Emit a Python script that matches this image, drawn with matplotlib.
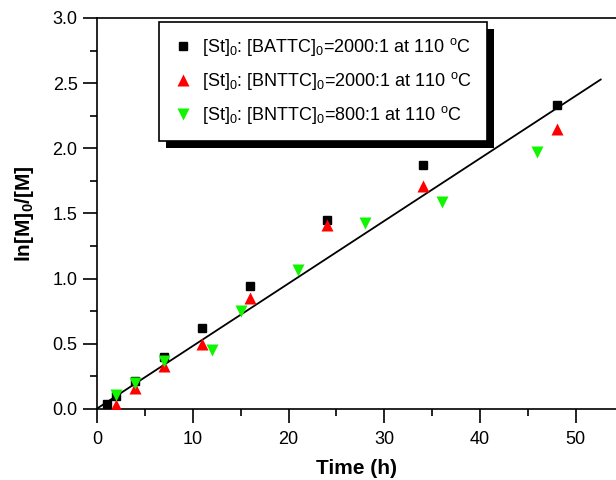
import numpy as np
import matplotlib
matplotlib.use("Agg")
import matplotlib.pyplot as plt
from matplotlib.patches import Rectangle
from matplotlib.ticker import MultipleLocator, FormatStrFormatter

plt.rcParams['font.family'] = ['Liberation Sans', 'DejaVu Sans']
plt.rcParams['mathtext.fontset'] = 'custom'
plt.rcParams['mathtext.rm'] = 'Liberation Sans'
plt.rcParams['mathtext.it'] = 'Liberation Sans:italic'
plt.rcParams['mathtext.bf'] = 'Liberation Sans:bold'

# Cinética: ln([M]0/[M]) vs tempo
t_battc_2000 = [1, 2, 4, 7, 11, 16, 24, 34, 48]
y_battc_2000 = [0.04, 0.10, 0.215, 0.40, 0.62, 0.94, 1.45, 1.87, 2.33]

t_bnttc_2000 = [2, 4, 7, 11, 16, 24, 34, 48]
y_bnttc_2000 = [0.03, 0.16, 0.33, 0.50, 0.85, 1.41, 1.71, 2.15]

t_bnttc_800 = [2, 4, 7, 12, 15, 21, 28, 36, 46]
y_bnttc_800 = [0.107, 0.20, 0.37, 0.45, 0.75, 1.07, 1.425, 1.59, 1.975]

# Reta ajustada
fit_slope = 0.048
fit_intercept = 0.003
fit_t = [0.0, 52.6]

labels = [r'[St]$_0$: [BATTC]$_0$=2000:1 at 110 $^{\rm o}$C',
          r'[St]$_0$: [BNTTC]$_0$=2000:1 at 110 $^{\rm o}$C',
          r'[St]$_0$: [BNTTC]$_0$=800:1 at 110 $^{\rm o}$C']

fig = plt.figure(figsize=(6.16, 4.80), dpi=100)
ax = fig.add_axes([0.1575, 0.148, 0.8425, 0.8145])

tf = np.array(fit_t)
ax.plot(tf, fit_slope * tf + fit_intercept, color='black', lw=1.3, zorder=2)

ax.plot(t_battc_2000, y_battc_2000, 's', color='black', ms=6, label=labels[0], zorder=3)
ax.plot(t_bnttc_2000, y_bnttc_2000, '^', color='#ff0000', ms=8.5, mec='none', label=labels[1], zorder=4)
ax.plot(t_bnttc_800, y_bnttc_800, 'v', color='#11f500', ms=8.5, mec='none', label=labels[2], zorder=5)

ax.set_xlim(0, 54.2)
ax.set_ylim(0, 3.0)
ax.xaxis.set_major_locator(MultipleLocator(10))
ax.xaxis.set_minor_locator(MultipleLocator(5))
ax.yaxis.set_major_locator(MultipleLocator(0.5))
ax.yaxis.set_minor_locator(MultipleLocator(0.25))
ax.yaxis.set_major_formatter(FormatStrFormatter('%.1f'))

for s in ['left', 'bottom', 'top']:
    ax.spines[s].set_linewidth(1.2)
ax.spines['right'].set_visible(False)
ax.tick_params(which='major', direction='out', length=10, width=1.2, labelsize=13)
ax.tick_params(which='minor', direction='out', length=5, width=1.2)
ax.tick_params(axis='x', pad=6)
ax.tick_params(axis='y', pad=4)

ax.set_xlabel('Time (h)', fontsize=15, fontweight='bold', labelpad=8)
ax.set_ylabel(r'ln[M]$_\mathbf{0}$/[M]', fontsize=15, fontweight='bold', labelpad=12)

leg = ax.legend(loc='upper left', bbox_to_anchor=(0.1195, 0.9898), borderaxespad=0,
                fontsize=13, frameon=True, fancybox=False, edgecolor='black',
                framealpha=1, borderpad=0.8, labelspacing=0.66, handletextpad=0.5,
                handlelength=1.1)
leg.get_frame().set_linewidth(1.2)
leg.set_zorder(10)

# Sombra preta atrás da legenda
fig.canvas.draw()
bb = leg.get_window_extent().transformed(fig.transFigure.inverted())
dx, dy = 7 / 616, 7 / 480
shadow = Rectangle((bb.x0 + dx, bb.y0 - dy), bb.width, bb.height,
                   transform=fig.transFigure, facecolor='black', edgecolor='none', zorder=9)
ax.add_artist(shadow)
shadow.set_clip_on(False)

fig.savefig('out.png', dpi=100)
